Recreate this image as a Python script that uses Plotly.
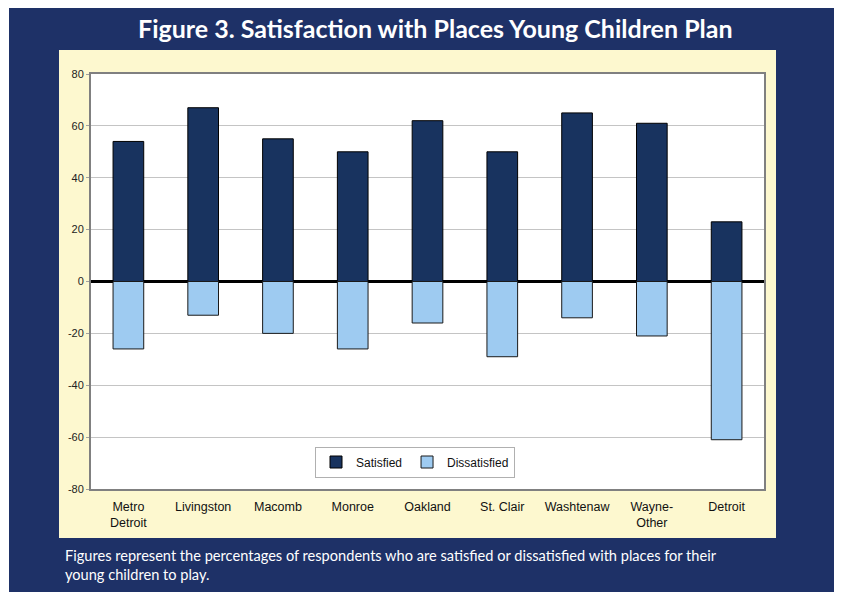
import plotly.graph_objects as go

categories = ["Metro<br>Detroit", "Livingston", "Macomb", "Monroe", "Oakland",
              "St. Clair", "Washtenaw", "Wayne-<br>Other", "Detroit"]
satisfied = [54, 67, 55, 50, 62, 50, 65, 61, 23]
dissatisfied = [-26, -13, -20, -26, -16, -29, -14, -21, -61]
y_ticks = [80, 60, 40, 20, 0, -20, -40, -60, -80]
y_tick_labels = ["80", "60", "40", "20", "0", "-20", "-40", "-60", "-80"]

W, H = 842, 592
OFF = 8  # page body margin offset
L, R, T, B = 91 - OFF, 764 - OFF, 74 - OFF, 489 - OFF


def px(x):
    return (x - OFF - L) / (R - L)


def py(y):
    return (B - (y - OFF)) / (B - T)


NAVY = "#1e3167"
fig = go.Figure()
fig.add_trace(go.Bar(x=categories, y=satisfied, name="Satisfied",
                     marker=dict(color="#18335f", line=dict(color="#000000", width=1)),
                     width=0.41))
fig.add_trace(go.Bar(x=categories, y=dissatisfied, name="Dissatisfied",
                     marker=dict(color="#9ecbf1", line=dict(color="#1a1a1a", width=1)),
                     width=0.41))

shapes = [
    dict(type="rect", xref="paper", yref="paper", x0=px(840), x1=px(845), y0=py(12), y1=py(610),
         fillcolor="#707070", line_width=0, layer="below"),
    dict(type="rect", xref="paper", yref="paper", x0=px(9), x1=px(840), y0=py(8), y1=py(610),
         fillcolor=NAVY, line_width=0, layer="below"),
    dict(type="rect", xref="paper", yref="paper", x0=px(59), x1=px(776), y0=py(50), y1=py(538),
         fillcolor="#fdf8cf", line_width=0, layer="below"),
    dict(type="rect", xref="paper", yref="paper", x0=0, x1=1, y0=0, y1=1,
         fillcolor="#ffffff", line_width=0, layer="below"),
]

annotations = [
    dict(text="<b>Figure 3. Satisfaction with Places Young Children Plan</b>",
         xref="paper", yref="paper", x=px(435), y=py(28), xanchor="center", yanchor="middle",
         showarrow=False, font=dict(family="Lato", size=25, color="white")),
    dict(text="Figures represent the percentages of respondents who are satisfied or dissatisfied with places for their<br>young children to play.",
         xref="paper", yref="paper", x=px(63), y=py(545), xanchor="left", yanchor="top",
         align="left", showarrow=False, font=dict(family="Lato", size=14.6, color="white")),
]

fig.update_layout(
    width=W, height=H,
    margin=dict(l=L, r=W - R, t=T, b=H - B, autoexpand=False),
    paper_bgcolor="white", plot_bgcolor="rgba(0,0,0,0)",
    barmode="relative",
    shapes=shapes, annotations=annotations,
    font=dict(family="Arial", color="#222222"),
    legend=dict(orientation="h", x=px(415), y=py(462), xanchor="center", yanchor="middle",
                bgcolor="white", bordercolor="#b0b0b0", borderwidth=1,
                font=dict(family="Arial", size=12, color="#111111"),
                itemwidth=30, tracegroupgap=0),
)
fig.update_xaxes(showgrid=False, showline=True, linecolor="#808080", linewidth=2, mirror=True,
                 ticks="", ticklabelstandoff=5,
                 tickfont=dict(family="Arial", size=12.5, color="#111111"))
fig.update_yaxes(range=[-80, 80], tickvals=y_ticks, ticktext=y_tick_labels,
                 showgrid=True, gridcolor="#c4c4c4", gridwidth=1,
                 zeroline=True, zerolinecolor="#000000", zerolinewidth=3,
                 showline=True, linecolor="#808080", linewidth=2, mirror=True,
                 ticks="outside", ticklen=3, tickcolor="#a0a0a0",
                 tickfont=dict(family="Arial", size=11, color="#222222"))

fig.write_html("out.html")
